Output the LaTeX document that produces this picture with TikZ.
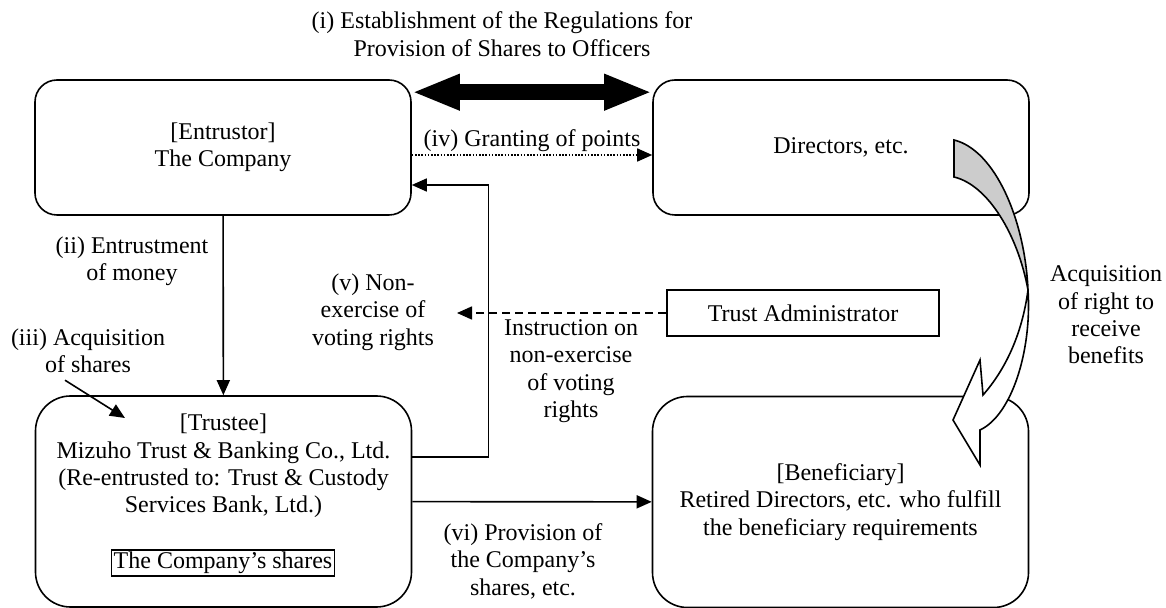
\documentclass[tikz,border=0pt]{standalone}
\usepackage{fontspec}
\setmainfont{Liberation Serif}
\usetikzlibrary{arrows.meta}

\begin{document}
\begin{tikzpicture}[x=0.5pt, y=-0.5pt,
    every node/.style={font=\fontsize{12}{13.7}\selectfont, align=center},
    party/.style={draw, line width=0.8pt, rounded corners=11pt, minimum width=188pt, minimum height=67.5pt},
    bigparty/.style={party, rounded corners=17.5pt, minimum height=105.5pt},
    plainbox/.style={draw, line width=0.8pt},
    arr/.style={line width=0.8pt, -{Triangle[length=7.5pt,width=6.5pt]}},
    bigarr/.style={line width=8pt, {Triangle[length=24pt,width=16.5pt]}-{Triangle[length=24pt,width=16.5pt]}}]
            \useasboundingbox (0,0) rectangle (1166,608);

            \node[party] (entrustor) at (223,147.5) {[Entrustor]\\The Company};
            \node[party] (directors) at (841,147.5) {Directors, etc.};
            \node[bigparty] (trustee) at (223.5,501.5) {};
            \node (trusteetxt) at (223.5,466) {[Trustee]\\Mizuho Trust \& Banking Co., Ltd.\\(Re-entrusted to: Trust \& Custody\\Services Bank, Ltd.)};
            \node[plainbox, line width=0.6pt, inner sep=1pt] (shares) at (223,563) {The Company's shares};
            \node[bigparty] (beneficiary) at (840.5,502) {[Beneficiary]\\Retired Directors, etc. who fulfill\\the beneficiary requirements};
            \node[plainbox, minimum width=136pt, minimum height=23pt] (admin) at (803,313) {Trust Administrator};

            \node (title) at (502,34) {(i) Establishment of the Regulations for\\Provision of Shares to Officers};
            \node (points) at (532,141) {(iv) Granting of points};
            \node (money) at (132,261) {(ii) Entrustment\\of money};
            \node (acq) at (88,351) {(iii) Acquisition\\of shares};
            \node (nonex) at (373,312) {(v) Non-\\exercise of\\voting rights};
            \node (instr) at (571,371) {Instruction on\\non-exercise\\of voting\\rights};
            \node (prov) at (523,561) {(vi) Provision of\\the Company's\\shares, etc.};
            \node (rights) at (1106,315) {Acquisition\\of right to\\receive\\benefits};

            \coordinate (voteend) at (457,313);
            \coordinate (acqtip) at (125,418);

            \draw[bigarr] ([yshift=-6.5pt]entrustor.north east) -- ([yshift=-6.5pt]directors.north west);
            \draw[arr, dash pattern=on 0.8pt off 0.8pt] ([yshift=-3.75pt]entrustor.east) -- ([yshift=-3.75pt]directors.west);
            \draw[arr] (entrustor) -- (trustee);
            \draw[arr] ([xshift=-11.5pt]acq.south) -- (acqtip);
            \draw[arr] ([yshift=22.25pt]trustee.east) -- ++(38pt,0) |- ([yshift=-18.75pt]entrustor.east);
            \draw[arr, dash pattern=on 4pt off 2.5pt] (admin) -- (voteend);
            \draw[arr] (trustee) -- (beneficiary);

            % curved arrow: directors -> beneficiary
            \filldraw[fill=gray!40, line width=0.8pt] (954,140) .. controls (995,150) and (1025,220) .. (1028,290) .. controls (1018,235) and (988,185) .. (954,177) -- cycle;
            \filldraw[fill=white, line width=0.8pt] (1028,290) .. controls (1032,350) and (1012,415) .. (980,430) -- (980,465) -- (953,420) -- (980,360) -- (983,395) .. controls (1005,370) and (1022,335) .. (1028,290) -- cycle;
        \end{tikzpicture}
\end{document}
